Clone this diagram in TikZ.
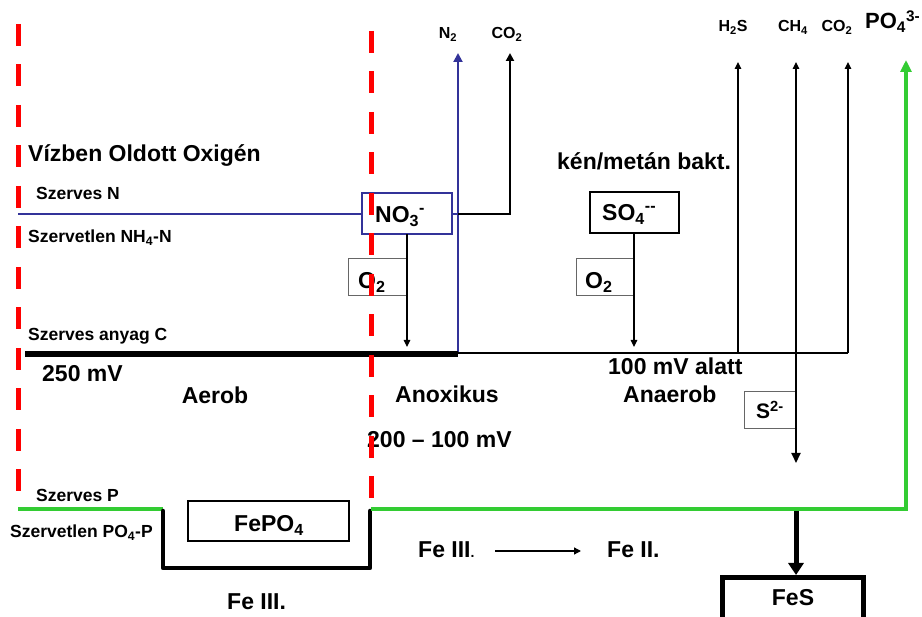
\documentclass[tikz,border=0pt]{standalone}
\usepackage{fontspec}
\setmainfont{Liberation Sans}
\usetikzlibrary{arrows.meta}
\definecolor{myblue}{HTML}{333399}
\definecolor{mygreen}{HTML}{33CC33}
\definecolor{myred}{HTML}{FF0000}
\begin{document}
\begin{tikzpicture}[x=1pt,y=-1pt,
  big/.style={font=\bfseries\fontsize{23}{27}\selectfont, inner sep=0pt},
  small/.style={font=\bfseries\fontsize{17.5}{21}\selectfont, inner sep=0pt},
  gas/.style={font=\bfseries\fontsize{16}{19}\selectfont, inner sep=0pt},
  tip/.style={-{Triangle[length=7pt,width=6.5pt]}},
  thinarrow/.style={line width=1.2pt, tip},
  o2box/.style={draw=black!60, line width=1pt},
  redline/.style={myred, line width=5pt, dash pattern=on 22pt off 18.5pt},
]
\useasboundingbox (0,0) rectangle (922,617);

% ---- texts left
\node[big, anchor=base west] (dox) at (28,162) {Vízben Oldott Oxigén};
\node[small, anchor=base west] (szn) at (36,200) {Szerves N};
\node[small, anchor=base west] (szvn) at (28,243) {Szervetlen NH\textsubscript{4}-N};
\node[small, anchor=base west] (szc) at (28,341) {Szerves anyag C};
\node[big, anchor=base west] (mv250) at (42,382) {250 mV};
\node[big, anchor=base] (aerob) at (215,404) {Aerob};
\node[big, anchor=base west] (anox) at (395,403) {Anoxikus};
\node[big, anchor=base west] (mv200) at (367,448) {200 – 100 mV};
\node[big, anchor=base west] (mv100) at (608,375) {100 mV alatt};
\node[big, anchor=base west] (anaer) at (623,403) {Anaerob};
\node[big, anchor=base west] (kenm) at (557,170) {kén/metán bakt.};
\node[small, anchor=base west] (szp) at (36,502) {Szerves P};
\node[small, anchor=base west] (szvp) at (10,538) {Szervetlen PO\textsubscript{4}-P};
\node[big, anchor=base west] (fe3b) at (227,609) {Fe III.};
\node[big, anchor=base west] (fe3m) at (418,558) {Fe III{\fontsize{14}{16}\selectfont.}};
\node[big, anchor=base west] (fe2) at (607,558) {Fe II.};

% ---- top gas labels
\node[gas, anchor=base] (n2l) at (448,39) {N\textsubscript{2}};
\node[gas, anchor=base] (co2a) at (507,39) {CO\textsubscript{2}};
\node[gas, anchor=base] (h2sl) at (733,32) {H\textsubscript{2}S};
\node[gas, anchor=base] (ch4l) at (793,32) {CH\textsubscript{4}};
\node[gas, anchor=base] (co2b) at (837,32) {CO\textsubscript{2}};
\node[font=\bfseries\fontsize{22}{26}\selectfont, inner sep=0pt, anchor=base west] (po4l) at (865,29) {PO\textsubscript{4}\textsuperscript{3-}};

% ---- nitrogen
\node[draw=myblue, line width=2pt, minimum width=90pt, minimum height=41pt, inner sep=0pt] (no3) at (407,214) {};
\node[big, anchor=base west] (no3t) at (375,223) {NO\textsubscript{3}\textsuperscript{-}};
\coordinate (nstart) at (18,214);
\draw[myblue, line width=2pt] (nstart) -- (no3.west);
\coordinate (nj) at (458,214);
\coordinate (nbase) at (458,353);
\coordinate (n2tip) at (458,53);
\draw[myblue, line width=2pt] (no3.east) -- (nj);
\draw[myblue, line width=2pt, -{Triangle[length=9pt,width=9pt]}] (nbase) -- (n2tip);
\coordinate (cA) at (510,214);
\coordinate (cAtip) at (510,53);
\draw[black, line width=2pt, -{Triangle[length=8pt,width=8pt]}] (nj) -- (cA) -- (cAtip);

% ---- O2 boxes
\node[o2box, minimum width=59pt, minimum height=37pt, inner sep=0pt] (o2a) at (377.5,277.5) {};
\node[big, anchor=base west] (o2at) at (358,289) {O\textsubscript{2}};
\node[o2box, minimum width=58pt, minimum height=37pt, inner sep=0pt] (o2b) at (605,277.5) {};
\node[big, anchor=base west] (o2bt) at (585,289) {O\textsubscript{2}};
\coordinate (o2aS) at (407,234);
\coordinate (o2aE) at (407,347);
\draw[thinarrow] (o2aS) -- (o2aE);

% ---- sulfate
\node[draw, line width=2.5pt, minimum width=89pt, minimum height=41pt, inner sep=0pt] (so4) at (634.5,212.5) {};
\node[big, anchor=base west] (so4t) at (602,221) {SO\textsubscript{4}\textsuperscript{-{}-}};
\coordinate (so4S) at (634,234);
\coordinate (so4E) at (634,347);
\draw[thinarrow] (so4S) -- (so4E);

% ---- carbon line
\coordinate (c0) at (25,354);
\coordinate (c1) at (458,354);
\draw[line width=6.5pt] (c0) -- (c1);
\coordinate (c2) at (848,353);
\draw[line width=2pt] (458,353) -- (c2);
\coordinate (h2sB) at (738,353); \coordinate (h2sT) at (738,62);
\coordinate (ch4B) at (796,353); \coordinate (ch4T) at (796,62);
\coordinate (co2T) at (848,62);
\draw[thinarrow] (h2sB) -- (h2sT);
\draw[thinarrow] (ch4B) -- (ch4T);
\draw[thinarrow] (c2) -- (co2T);

% ---- S2-
\node[o2box, minimum width=51pt, minimum height=37pt, inner sep=0pt] (s2) at (769.5,410.5) {};
\node[font=\bfseries\fontsize{21}{25}\selectfont, inner sep=0pt, anchor=base west] (s2t) at (756,419) {S\textsuperscript{2-}};
\coordinate (s2tip) at (796,463);
\draw[line width=2pt, -{Triangle[length=10pt,width=9pt]}] (ch4B) -- (s2tip);

% ---- phosphorus
\coordinate (p0) at (18,509);
\coordinate (u1) at (163,509);
\coordinate (u2) at (163,568);
\coordinate (u3) at (370,568);
\coordinate (u4) at (370,509);
\coordinate (p1) at (371,509);
\coordinate (p2) at (906,509);
\coordinate (p3) at (906,60);
\draw[mygreen, line width=3.5pt] (p0) -- (u1);
\draw[line width=4.5pt, line join=round, line cap=round] (163,511) -- (u2) -- (u3) -- (370,511);
\draw[mygreen, line width=3.5pt, -{Triangle[length=12pt,width=11pt]}] (p1) -- (p2) -- (p3);
\node[draw, line width=1.8pt, minimum width=161pt, minimum height=40pt, inner sep=0pt] (fepo4) at (268.5,521) {};
\node[big, anchor=base] (fepo4t) at (269,532) {FePO\textsubscript{4}};

% ---- FeS
\node[draw, line width=5pt, minimum width=141pt, minimum height=70pt, inner sep=0pt, anchor=north] (fes) at (792.5,575) {};
\node[big, anchor=base] (fest) at (793,606) {FeS};
\coordinate (fesA) at (796,511);
\draw[line width=5pt, -{Triangle[length=12pt,width=15pt]}] (fesA) -- (fes.north -| fesA);

% ---- Fe III -> Fe II arrow
\coordinate (feA) at (495,551);
\coordinate (feB) at (581,551);
\draw[line width=1.3pt, -{Triangle[length=7pt,width=7pt]}] (feA) -- (feB);

% ---- red dashed boundaries
\coordinate (rlT) at (18.5,24); \coordinate (rlB) at (18.5,494);
\coordinate (rrT) at (371,31); \coordinate (rrB) at (371,500);
\draw[redline] (rlT) -- (rlB);
\draw[redline] (rrT) -- (rrB);
\end{tikzpicture}
\end{document}
